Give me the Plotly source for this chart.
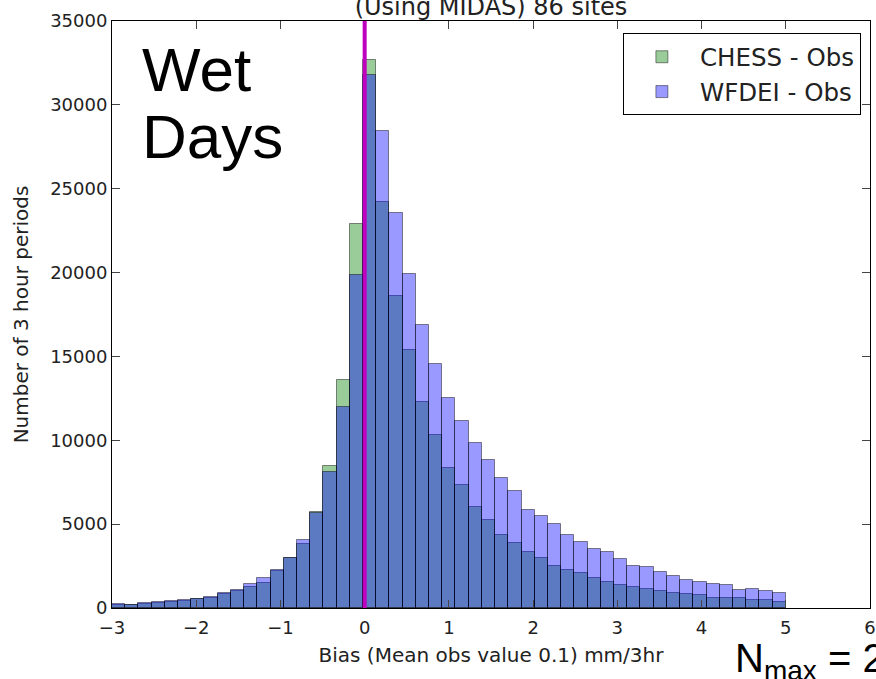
import numpy as np
import plotly.graph_objects as go

# ---- data ----
bin_start = -3.0
bin_end = 5.0
n_bins = 51

chess_minus_obs = [160, 150, 250, 320, 330, 410, 510, 610, 820, 1000,
                   1250, 1510, 2180, 2960, 3820, 5750, 8440, 13620, 22900, 32680,
                   24200, 18600, 15400, 12270, 10340, 8350, 7330, 6010, 5220, 4340,
                   3900, 3330, 2970, 2510, 2290, 2070, 1770, 1530, 1350, 1270,
                   1110, 1030, 920, 840, 760, 600, 600, 600, 460, 460, 380]

wfdei_minus_obs = [220, 180, 270, 340, 400, 480, 540, 640, 870, 1070,
                   1430, 1770, 2270, 2960, 4060, 5650, 8080, 12000, 19850, 31780,
                   28420, 23580, 19930, 16850, 14520, 12530, 11150, 9820, 8800, 7770,
                   6970, 5870, 5500, 5000, 4340, 3960, 3520, 3360, 2950, 2510,
                   2430, 2130, 1930, 1690, 1550, 1410, 1350, 1100, 1110, 1030, 900]

series_names = ["CHESS - Obs", "WFDEI - Obs"]
x_ticks = [-3, -2, -1, 0, 1, 2, 3, 4, 5, 6]
y_ticks = [0, 5000, 10000, 15000, 20000, 25000, 30000, 35000]

edges = np.linspace(bin_start, bin_end, n_bins + 1)
centers = (edges[:-1] + edges[1:]) / 2
bw = edges[1] - edges[0]

FONT = "DejaVu Sans"

fig = go.Figure()
fig.add_trace(go.Bar(
    x=centers, y=chess_minus_obs, width=bw, name=series_names[0],
    marker=dict(color="rgba(0,128,0,0.4)", line=dict(color="rgba(0,0,0,0.45)", width=1)),
))
fig.add_trace(go.Bar(
    x=centers, y=wfdei_minus_obs, width=bw, name=series_names[1],
    marker=dict(color="rgba(0,0,255,0.4)", line=dict(color="rgba(0,0,0,0.45)", width=1)),
))

# vertical magenta line at zero bias
fig.add_shape(type="line", xref="x", yref="paper", x0=0, x1=0, y0=0, y1=1,
              line=dict(color="#BF00BF", width=4), layer="above")

axis_common = dict(
    showline=True, linecolor="black", linewidth=1, mirror="ticks",
    ticks="inside", ticklen=8, tickwidth=1, tickcolor="#444",
    showgrid=False, zeroline=False,
    tickfont=dict(family=FONT, size=18, color="#222"),
)

fig.update_layout(
    width=876, height=679,
    margin=dict(l=112, r=6, t=21, b=71, autoexpand=False),
    paper_bgcolor="white", plot_bgcolor="white",
    barmode="overlay", bargap=0,
    showlegend=True,
    legend=dict(
        x=0.988, y=0.979, xanchor="right", yanchor="top",
        bordercolor="black", borderwidth=1, bgcolor="white",
        font=dict(family=FONT, size=24.5, color="#222"),
        itemwidth=66, tracegroupgap=0,
    ),
    title=dict(text="(Using MIDAS) 86 sites", x=0.5605, xanchor="center",
               y=1 - 6.5 / 679, yanchor="middle", yref="container",
               font=dict(family=FONT, size=24, color="#222")),
    xaxis=dict(range=[-3, 6], tickvals=x_ticks, ticklabelstandoff=3,
               title=dict(text="Bias (Mean obs value 0.1) mm/3hr",
                          font=dict(family=FONT, size=20, color="#222"), standoff=11),
               **axis_common),
    yaxis=dict(range=[0, 35000], tickvals=y_ticks, tickformat="d",
               title=dict(text="Number of 3 hour periods",
                          font=dict(family=FONT, size=20, color="#222"), standoff=16),
               **axis_common),
)

fig.add_annotation(text="Wet", xref="paper", yref="paper", x=0.037, y=1 - (70 - 21) / 587,
                   xanchor="left", yanchor="middle", showarrow=False,
                   font=dict(family="Liberation Sans", size=62, color="black"))
fig.add_annotation(text="Days", xref="paper", yref="paper", x=0.037, y=1 - (136 - 21) / 587,
                   xanchor="left", yanchor="middle", showarrow=False,
                   font=dict(family="Liberation Sans", size=62, color="black"))
fig.add_annotation(text="N<sub>max</sub> = 2", xref="paper", yref="paper",
                   x=(733 - 112) / 758, y=1 - (661 - 21) / 587,
                   xanchor="left", yanchor="middle", showarrow=False,
                   font=dict(family="Liberation Sans", size=40, color="black"))

fig.write_html("out.html")
